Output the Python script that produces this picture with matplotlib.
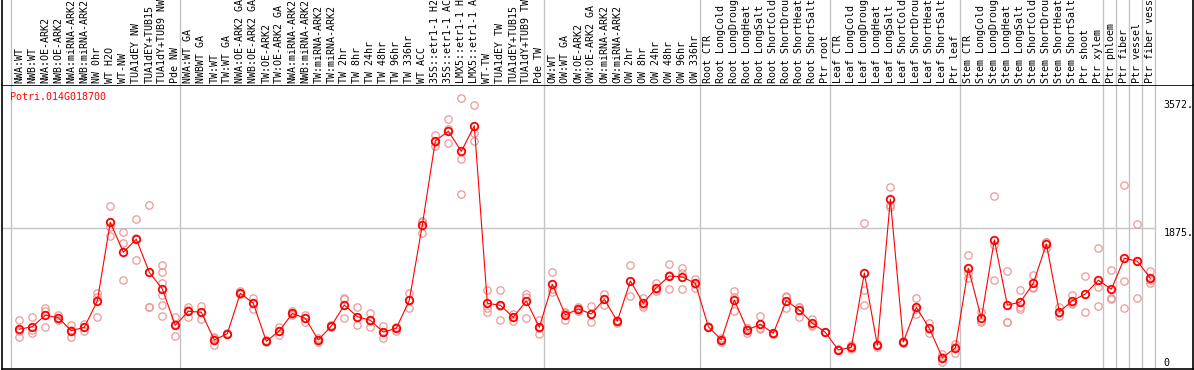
import matplotlib
matplotlib.use("Agg")
import matplotlib.pyplot as plt
import numpy as np

gene = "Potri.014G018700"

labels = [
    "NWA:WT", "NWB:WT", "NWA:OE-ARK2", "NWB:OE-ARK2", "NWA:miRNA-ARK2", "NWB:miRNA-ARK2",
    "NW 0hr", "WT H2O", "WT-NW", "TUA1dEY NW", "TUA1dEY+TUB15", "TUA1dY+TUB9 NW", "Pde NW",
    "NWA:WT GA", "NWBWT GA", "TW:WT", "TW:WT GA", "NWA:OE-ARK2 GA", "NWB:OE-ARK2 GA",
    "TW:OE-ARK2", "TW:OE-ARK2 GA", "NWA:miRNA-ARK2", "NWB:miRNA-ARK2", "TW:miRNA-ARK2",
    "TW:miRNA-ARK2", "TW 2hr", "TW 8hr", "TW 24hr", "TW 48hr", "TW 96hr", "TW 336hr",
    "WT ACC", "35S::etr1-1 H2", "35S::etr1-1 AC", "LMX5::etr1-1 H", "LMX5::etr1-1 A",
    "WT-TW", "TUA1dEY TW", "TUA1dEY+TUB15", "TUA1dY+TUB9 TW", "Pde TW",
    "OW:WT", "OW:WT GA", "OW:OE-ARK2", "OW:OE-ARK2 GA", "OW:miRNA-ARK2", "OW:miRNA-ARK2",
    "OW 2hr", "OW 8hr", "OW 24hr", "OW 48hr", "OW 96hr", "OW 336hr",
    "Root CTR", "Root LongCold", "Root LongDroug", "Root LongHeat", "Root LongSalt",
    "Root ShortCold", "Root ShortDrou", "Root ShortHeat", "Root ShortSalt", "Ptr root",
    "Leaf CTR", "Leaf LongCold", "Leaf LongDroug", "Leaf LongHeat", "Leaf LongSalt",
    "Leaf ShortCold", "Leaf ShortDrou", "Leaf ShortHeat", "Leaf ShortSalt", "Ptr leaf",
    "Stem CTR", "Stem LongCold", "Stem LongDroug", "Stem LongHeat", "Stem LongSalt",
    "Stem ShortCold", "Stem ShortDrou", "Stem ShortHeat", "Stem ShortSalt", "Ptr shoot",
    "Ptr xylem", "Ptr phloem", "Ptr fiber", "Ptr vessel", "Ptr fiber vess",
]

means = [
    522, 557, 709, 677, 503, 549, 899, 1947, 1548, 1721, 1281, 1059, 575,
    762, 749, 380, 464, 1002, 868, 362, 500, 733, 669, 380, 566, 846, 690, 642,
    486, 535, 908, 1911, 3030, 3160, 2893, 3230, 868, 842, 682, 899, 549,
    1122, 713, 793, 726, 922, 629, 1166, 868, 1076, 1232, 1219, 1135,
    557, 380, 912, 513, 589, 469, 903, 779, 602, 482,
    246, 282, 1272, 309, 2254, 353, 815, 535, 144, 273,
    1335, 669, 1712, 842, 886, 1135, 1658, 753, 903, 992, 1175,
    1055, 1468, 1428, 1201,
]

replicates = [
    [646, 416, 503], [682, 477, 513], [802, 770, 549], [713, 646, 671], [579, 416, 515],
    [593, 503, 550], [1010, 956, 682], [2161, 1889, 1769], [1814, 1668, 1175],
    [1987, 1441, 1734], [2174, 823, 815], [1379, 1289, 1135, 979, 846, 695],
    [690, 437, 598],
    [823, 690, 773], [833, 663, 750], [402, 313, 424], [477, 460, 453], [1032, 992, 992],
    [935, 797, 872], [373, 362, 352], [557, 446, 496], [766, 726, 709], [713, 623, 670],
    [402, 357, 380], [575, 557, 566], [935, 932, 669], [815, 575, 681], [735, 557, 633],
    [570, 402, 486], [557, 503, 545], [1010, 802, 912], [1969, 1809, 1957],
    [3110, 2964, 3017], [3319, 3186, 3000], [3599, 2787, 2320], [3506, 3141, 3034],
    [1042, 757, 806], [1042, 646, 838], [726, 637, 682], [992, 956, 669], [646, 456, 545],
    [1285, 1023, 1056], [757, 646, 735], [823, 770, 785], [833, 615, 730], [992, 846, 926],
    [646, 610, 629], [1375, 962, 1160], [935, 823, 846], [1143, 1032, 1059],
    [1392, 1055, 1249], [1335, 1276, 1055], [1196, 1076, 1130],
    [566, 557, 549], [402, 349, 386], [1032, 956, 762], [535, 469, 535], [695, 530, 539],
    [473, 466, 466], [948, 802, 959], [823, 690, 823], [663, 566, 575], [486, 480, 480],
    [253, 246, 240], [309, 264, 273], [1934, 1046, 846], [322, 290, 313], [2422, 2178, 2155],
    [370, 336, 353], [935, 722, 789], [602, 477, 526], [189, 91, 153], [326, 210, 282],
    [1512, 1201, 1276], [757, 615, 633], [2294, 1641, 1175], [1295, 615, 615],
    [1042, 823, 789], [1245, 1082, 1078], [1689, 1601, 1685], [819, 699, 739],
    [979, 868, 862], [1232, 753, 992], [1601, 1090, 833],
    [1308, 922, 935], [2440, 1166, 802], [1921, 935, 1428], [1295, 1135, 1175],
]

group_starts = [0, 13, 41, 53, 63, 73, 84, 85, 86, 87, 88]
y_ticks = [0, 1875, 3572]
y_tick_labels = ["0", "1875.", "3572."]
y_max = 3775

W, H = 1194, 370
fig = plt.figure(figsize=(W / 100, H / 100), dpi=100)
fig.patch.set_facecolor("white")

left_px, right_px = 1.5, 1193
top_px, sep_px, bot_px = 0, 85, 368.5
x0 = -1.369
x1 = 90.28
mono = "DejaVu Sans Mono"
fs = 7.2

ax = fig.add_axes([left_px / W, (H - bot_px) / H, (right_px - left_px) / W, (bot_px - sep_px) / H])
axt = fig.add_axes([left_px / W, (H - sep_px) / H, (right_px - left_px) / W, sep_px / H])

for a in (ax, axt):
    a.set_xlim(x0, x1)
    a.set_xticks([])
    a.set_yticks([])
    for s in a.spines.values():
        s.set_color("black")
        s.set_linewidth(1.2)
axt.spines["top"].set_visible(False)
axt.spines["bottom"].set_visible(False)
axt.set_ylim(0, 1)
ax.set_ylim(0, y_max)

grid_c = "#C4C4C4"
for g in group_starts:
    gx = g - 0.62
    ax.axvline(gx, color=grid_c, lw=1.0, zorder=1)
    axt.axvline(gx, color=grid_c, lw=1.0, zorder=1)
ax.hlines(1875, x0, 87.38, color=grid_c, lw=1.0, zorder=1)

xs = np.arange(len(labels))
for i, reps in enumerate(replicates):
    ax.plot([i] * len(reps), reps, linestyle="none", marker="o", ms=5.3,
            mfc="none", mec="#EC9898", mew=0.9, zorder=2)
ax.plot(xs, means, color="#FF0000", lw=0.8, zorder=3)
ax.plot(xs, means, linestyle="none", marker="o", ms=5.4, mfc="none",
        mec="#FF0000", mew=1.3, zorder=4)

for i, lab in enumerate(labels):
    axt.text(i, 2.0 / sep_px, lab, rotation=90, ha="center", va="bottom",
             fontsize=fs, family=mono, color="black")

for v, t in zip(y_ticks, y_tick_labels):
    ax.text(88.0, v, t, ha="left", va="bottom" if v == 0 else "top",
            fontsize=fs, family=mono, color="black")

ax.text(0.0069, 1 - 12.3 / (bot_px - sep_px), gene, transform=ax.transAxes,
        ha="left", va="center", fontsize=fs, family=mono, color="#FF0000")

fig.savefig("out.png", dpi=100, facecolor="white")
